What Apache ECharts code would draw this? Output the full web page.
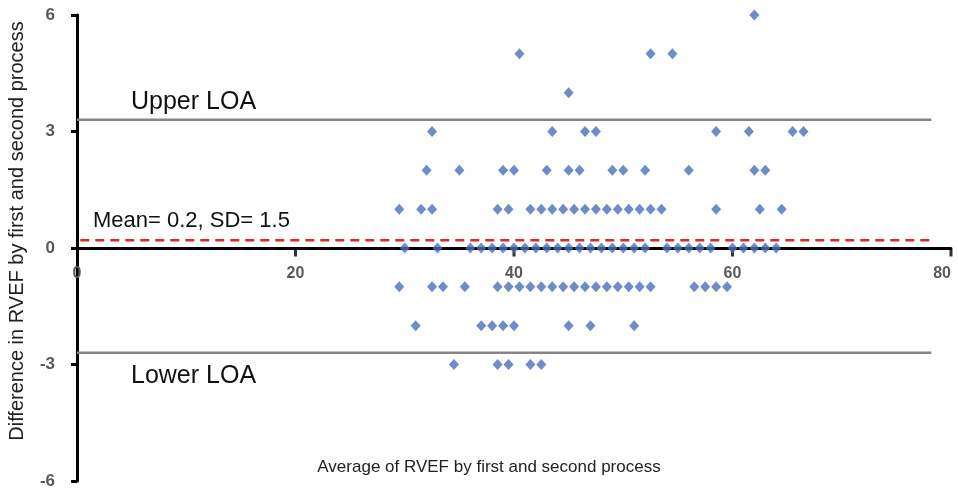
<!DOCTYPE html>
<html>
<head>
<meta charset="utf-8">
<script src="https://cdn.jsdelivr.net/npm/echarts@6/dist/echarts.min.js"></script>
<style>html,body{margin:0;padding:0;background:#fff;}#c{width:958px;height:494px;}</style>
</head>
<body>
<div id="c"></div>
<script>
// Differences (y) and the averages (x) observed at each difference level
const diffLevels = [6, 5, 4, 3, 2, 1, 0, -1, -2, -3];
const avgAtDiff6 = [62];
const avgAtDiff5 = [40.5, 52.5, 54.5];
const avgAtDiff4 = [45];
const avgAtDiff3 = [32.5, 43.5, 46.5, 47.5, 58.5, 61.5, 65.5, 66.5];
const avgAtDiff2 = [32, 35, 39, 40, 43, 45, 46, 49, 50, 52, 56, 62, 63];
const avgAtDiff1 = [29.5, 31.5, 32.5, 38.5, 39.5, 41.5, 42.5, 43.5, 44.5, 45.5, 46.5, 47.5, 48.5, 49.5, 50.5, 51.5, 52.5, 53.5, 58.5, 62.5, 64.5];
const avgAtDiff0 = [30, 33, 36, 37, 38, 39, 40, 41, 42, 43, 44, 45, 46, 47, 48, 49, 50, 51, 52, 54, 55, 56, 57, 58, 60, 61, 62, 63, 64];
const avgAtDiffM1 = [29.5, 32.5, 33.5, 35.5, 38.5, 39.5, 40.5, 41.5, 42.5, 43.5, 44.5, 45.5, 46.5, 47.5, 48.5, 49.5, 50.5, 51.5, 52.5, 56.5, 57.5, 58.5, 59.5];
const avgAtDiffM2 = [31, 37, 38, 39, 40, 45, 47, 51];
const avgAtDiffM3 = [34.5, 38.5, 39.5, 41.5, 42.5];
const avgRows = [avgAtDiff6, avgAtDiff5, avgAtDiff4, avgAtDiff3, avgAtDiff2, avgAtDiff1, avgAtDiff0, avgAtDiffM1, avgAtDiffM2, avgAtDiffM3];

// Reference lines
const meanDiff = 0.2;
const upperLOA = 3.3;
const lowerLOA = -2.7;
const loaLineX = [0, 78.2];
const meanLineX = [0.3, 78.5];

// Axis ticks
const xTicks = [0, 20, 40, 60, 80];
const yTicks = [-6, -3, 0, 3, 6];

const points = [];
diffLevels.forEach((d, i) => avgRows[i].forEach(a => points.push([a, d])));

const W = 958, H = 494;
const gridTop = 15, gridBottom = 13;
const el = document.getElementById('c');
const chart = echarts.init(el, null, {renderer: 'canvas'});
const labelFont = {color: '#595959', fontWeight: 'bold', fontFamily: 'Liberation Sans', fontSize: 16};
// label-carrying copy of the x axis sits where y = 0 (middle of the symmetric y range)
const xAxisOffset = -(H - gridTop - gridBottom) / 2;
const xMin = xTicks[0], xMax = xTicks[xTicks.length - 1];
chart.setOption({
  animation: false,
  backgroundColor: '#fff',
  grid: {left: 77, right: 7, top: gridTop, bottom: gridBottom, outerBoundsMode: 'none', containLabel: false},
  xAxis: [
    {
      type: 'value', min: xMin, max: xMax, interval: 20,
      axisLine: {onZero: true, lineStyle: {color: '#000', width: 3}},
      axisTick: {show: false},
      axisLabel: {show: false},
      splitLine: {show: false}
    },
    {
      type: 'value', min: xMin, max: xMax, interval: 20,
      position: 'bottom', offset: xAxisOffset,
      axisLine: {show: false, onZero: false},
      axisTick: {show: false},
      axisLabel: Object.assign({margin: 18, alignMaxLabel: 'right'}, labelFont),
      splitLine: {show: false}
    }
  ],
  yAxis: {
    type: 'value', min: yTicks[0], max: yTicks[yTicks.length - 1], interval: 3,
    axisLine: {show: true, onZero: false, lineStyle: {color: '#000', width: 3}},
    axisTick: {show: true, length: 6, lineStyle: {color: '#000', width: 3}},
    axisLabel: Object.assign({margin: 22}, labelFont, {fontSize: 17}),
    splitLine: {show: false}
  },
  series: [
    {
      type: 'line', data: [[loaLineX[0], upperLOA], [loaLineX[1], upperLOA]],
      symbol: 'none', lineStyle: {color: '#858585', width: 2.5}, z: 1, silent: true
    },
    {
      type: 'line', data: [[loaLineX[0], lowerLOA], [loaLineX[1], lowerLOA]],
      symbol: 'none', lineStyle: {color: '#858585', width: 2.5}, z: 1, silent: true
    },
    {
      type: 'line', data: [[meanLineX[0], meanDiff], [meanLineX[1], meanDiff]],
      symbol: 'none', lineStyle: {color: '#e0262a', width: 2.5, type: [9, 6]}, z: 1, silent: true
    },
    {
      // x-axis tick marks, hanging below the axis line at y = 0
      type: 'scatter', data: xTicks.slice(1).map(t => [t, 0]), symbol: 'rect',
      symbolSize: [3, 7], symbolOffset: [0, 5], itemStyle: {color: '#000'}, z: 3, silent: true
    },
    {
      type: 'scatter', data: points, symbol: 'diamond', symbolSize: [10, 11],
      itemStyle: {color: '#4a6fba'}, z: 5
    }
  ],
  graphic: [
    {type: 'text', left: 131, top: 90, style: {text: 'Upper LOA', fontSize: 25, fontFamily: 'Liberation Sans', fill: '#111'}},
    {type: 'text', left: 131, top: 364, style: {text: 'Lower LOA', fontSize: 25, fontFamily: 'Liberation Sans', fill: '#111'}},
    {type: 'text', left: 93, top: 210, style: {text: 'Mean= 0.2, SD= 1.5', fontSize: 22, fontFamily: 'Liberation Sans', fill: '#111'}},
    {type: 'text', x: 17, y: 231, rotation: Math.PI / 2,
     style: {text: 'Difference in RVEF by first and second process', fontSize: 20, fontFamily: 'Liberation Sans', fill: '#222', align: 'center', verticalAlign: 'middle'}},
    {type: 'text', x: 489, y: 467,
     style: {text: 'Average of RVEF by first and second process', fontSize: 17, fontFamily: 'Liberation Sans', fill: '#222', align: 'center', verticalAlign: 'middle'}}
  ]
});
</script>
</body>
</html>
